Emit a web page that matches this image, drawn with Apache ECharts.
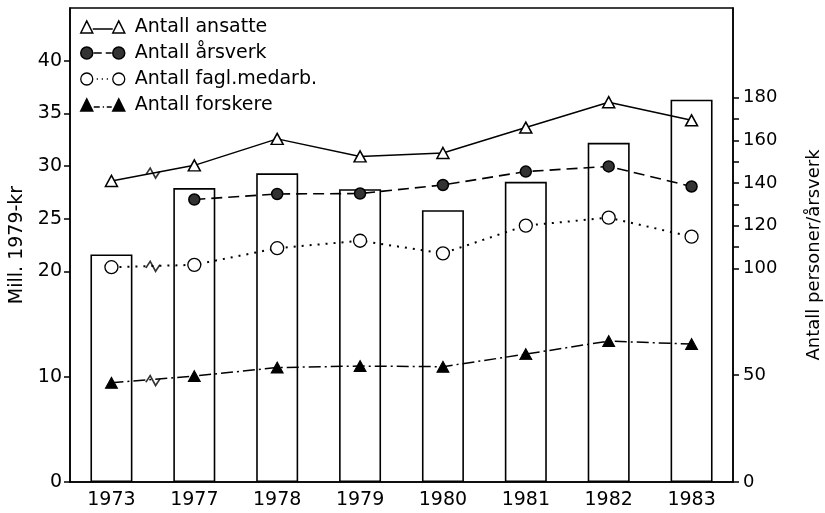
<!DOCTYPE html>
<html>
<head>
<meta charset="utf-8">
<script src="https://cdn.jsdelivr.net/npm/echarts@6/dist/echarts.min.js"></script>
<style>html,body{margin:0;padding:0;background:#fff}#c{width:825px;height:513px}</style>
</head>
<body>
<div id="c"></div>
<script>
var years = ['1973','1977','1978','1979','1980','1981','1982','1983'];
var budget = [21.6, 27.9, 29.3, 27.8, 25.8, 28.5, 32.2, 36.3];          // Mill. 1979-kr (bars)
var ansatte = [141, 148.3, 160.7, 152.5, 154.1, 166, 177.9, 169.4];
var arsverk = [null, 132.3, 134.9, 135.1, 139.1, 145.4, 147.8, 138.4];
var fagl = [100.6, 101.7, 109.5, 113, 107.1, 120.1, 123.8, 114.9];
var forskere = [46.5, 49.6, 53.6, 54.3, 54.0, 59.9, 66, 64.6];
var breakPos = 0.5;                      // axis break between 1973 and 1977
var breakVals = [144.7, 101, 47.5];      // where the break marks sit on the lines
var leftTicks = [0, 10, 20, 25, 30, 35, 40];
var rightLabels = [0, 50, 100, 120, 140, 160, 180];
var rightTicks = [0, 50, 100, 110, 120, 130, 140, 150, 160, 170, 180];

var FONT = 'DejaVu Sans';
var chart = echarts.init(document.getElementById('c'));

var circ = function (cx) { return 'M' + (cx - 6) + ',6A6,6 0 1,1 ' + (cx + 6) + ',6A6,6 0 1,1 ' + (cx - 6) + ',6Z'; };
var icons = {
  ansatte: 'path://M0,12L6,0L12,12Z M12,8L32,8 M32,12L38,0L44,12Z',
  arsverk: 'path://' + circ(6) + ' M13,6L21,6 M25,6L31,6 ' + circ(38),
  fagl: 'path://' + circ(6) + ' M16,6L17.2,6 M21,6L22.2,6 M26,6L27.2,6 ' + circ(38),
  forskere: 'path://M0,12L6,0L12,12Z M13,8L19,8 M22,8L23.3,8 M26,8L31,8 M32,12L38,0L44,12Z'
};

var option = {
  animation: false,
  backgroundColor: '#fff',
  textStyle: { fontFamily: FONT, color: '#000' },
  grid: { left: 70, right: 92, top: 8, bottom: 31, show: true, borderColor: '#000', borderWidth: 1.5, backgroundColor: 'transparent', outerBoundsMode: 'none', containLabel: false },
  legend: {
    orient: 'vertical', left: 80, top: 17, padding: 0, itemWidth: 44, itemHeight: 12, itemGap: 6,
    textStyle: { fontFamily: FONT, fontSize: 19, color: '#000', lineHeight: 20, padding: [0, 0, 0, 5] },
    data: [
      { name: 'Antall ansatte', icon: icons.ansatte, itemStyle: { color: '#fff', borderColor: '#000', borderWidth: 1.5 } },
      { name: 'Antall årsverk', icon: icons.arsverk, itemStyle: { color: '#333', borderColor: '#000', borderWidth: 1.5 } },
      { name: 'Antall fagl.medarb.', icon: icons.fagl, itemStyle: { color: '#fff', borderColor: '#000', borderWidth: 1.3 } },
      { name: 'Antall forskere', icon: icons.forskere, itemStyle: { color: '#000', borderColor: '#000', borderWidth: 1.5 } }
    ]
  },
  xAxis: [
    {
      type: 'category', data: years, boundaryGap: true,
      axisLine: { onZero: false, lineStyle: { color: '#000', width: 1.5 } },
      axisTick: { show: false },
      axisLabel: { fontFamily: FONT, fontSize: 19, color: '#000', margin: 9 },
      splitLine: { show: false }
    },
    { type: 'value', min: -0.5, max: 7.5, show: false, axisLine: { onZero: false } }
  ],
  yAxis: [
    {
      type: 'value', min: 0, max: 45, interval: 5, position: 'left',
      name: 'Mill. 1979-kr', nameLocation: 'middle', nameGap: 42,
      nameTextStyle: { fontFamily: FONT, fontSize: 19, color: '#000' },
      axisLine: { show: true, onZero: false, lineStyle: { color: '#000', width: 1.5 } },
      axisTick: { show: true, length: 6, customValues: leftTicks, lineStyle: { color: '#000', width: 1.5 } },
      axisLabel: { fontFamily: FONT, fontSize: 19, color: '#000', margin: 8, customValues: leftTicks },
      splitLine: { show: false }
    },
    {
      type: 'value', min: 0, max: 222, position: 'right',
      name: 'Antall personer/årsverk', nameLocation: 'middle', nameGap: 72, nameRotate: 90,
      nameTextStyle: { fontFamily: FONT, fontSize: 18, color: '#000', padding: [0, 20, 0, 0] },
      axisLine: { show: true, onZero: false, lineStyle: { color: '#000', width: 1.5 } },
      axisTick: { show: true, length: 6, customValues: rightTicks, lineStyle: { color: '#000', width: 1.5 } },
      axisLabel: { fontFamily: FONT, fontSize: 18, color: '#000', margin: 10, customValues: rightLabels },
      splitLine: { show: false }
    }
  ],
  series: [
    {
      name: 'Mill. 1979-kr', type: 'bar', data: budget, barWidth: 42, yAxisIndex: 0, z: 1,
      itemStyle: { color: '#fff', borderColor: '#000', borderWidth: 1.6 }
    },
    {
      name: 'Antall ansatte', type: 'line', data: ansatte, yAxisIndex: 1, z: 5,
      symbol: 'triangle', symbolSize: [12, 11], showAllSymbol: true,
      lineStyle: { color: '#000', width: 1.5, type: 'solid' },
      itemStyle: { color: '#fff', borderColor: '#000', borderWidth: 1.5 }
    },
    {
      name: 'Antall årsverk', type: 'line', data: arsverk, yAxisIndex: 1, z: 5,
      symbol: 'circle', symbolSize: 11, showAllSymbol: true,
      lineStyle: { color: '#000', width: 1.6, type: [11, 6] },
      itemStyle: { color: '#333', borderColor: '#000', borderWidth: 1.5 }
    },
    {
      name: 'Antall fagl.medarb.', type: 'line', data: fagl, yAxisIndex: 1, z: 5,
      symbol: 'circle', symbolSize: 13, showAllSymbol: true,
      lineStyle: { color: '#000', width: 2, type: [2, 6] },
      itemStyle: { color: '#fff', borderColor: '#000', borderWidth: 1.3 }
    },
    {
      name: 'Antall forskere', type: 'line', data: forskere, yAxisIndex: 1, z: 5,
      symbol: 'triangle', symbolSize: [12, 11], showAllSymbol: true,
      lineStyle: { color: '#000', width: 1.5, type: [12, 4, 2, 4] },
      itemStyle: { color: '#000', borderColor: '#000', borderWidth: 1 }
    },
    {
      name: 'break', type: 'scatter', xAxisIndex: 1, yAxisIndex: 1, z: 6, silent: true,
      data: breakVals.map(function (v) { return [breakPos, v]; }),
      symbol: 'path://M0,7L4,1L9,10L13,4', symbolSize: [14, 10],
      itemStyle: { color: 'rgba(0,0,0,0)', borderColor: '#000', borderWidth: 1.5 }
    }
  ]
};
chart.setOption(option);
</script>
</body>
</html>
